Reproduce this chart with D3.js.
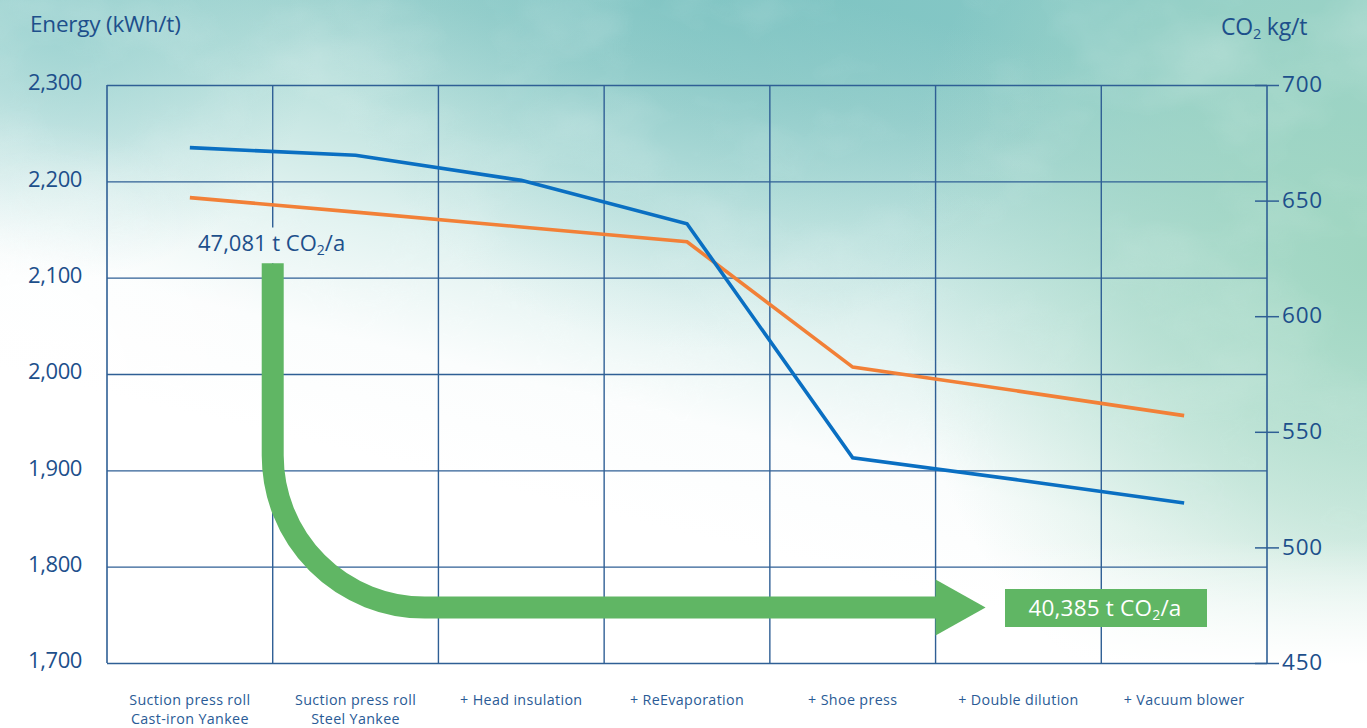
<!DOCTYPE html>
<html>
<head>
<meta charset="utf-8">
<script src="https://cdn.jsdelivr.net/npm/d3@7"></script>
<style>
  html, body { margin: 0; padding: 0; background: #fff; }
  svg { display: block; }
  text { font-family: "Open Sans", "Noto Sans", sans-serif; }
</style>
</head>
<body>
<svg id="chart" width="1367" height="728"></svg>
<script>
// ---------- data ----------
const categories = [
  "Suction press roll\nCast-iron Yankee",
  "Suction press roll\nSteel Yankee",
  "+ Head insulation",
  "+ ReEvaporation",
  "+ Shoe press",
  "+ Double dilution",
  "+ Vacuum blower"
];
const energyValues = [2235, 2227, 2201, 2156, 1913, 1890, 1866];   // kWh/t (left axis)
const co2Values    = [651.3, 645.0, 638.6, 632.2, 578.0, 567.6, 557.0]; // kg/t (right axis)
const leftTicks  = [1700, 1800, 1900, 2000, 2100, 2200, 2300];
const rightTicks = [450, 500, 550, 600, 650, 700];
const startLabel = "47,081 t CO";
const endLabel   = "40,385 t CO";

// ---------- layout ----------
const W = 1367, H = 728;
const m = { left: 107, top: 85, right: 100, bottom: 65 };
const pw = W - m.left - m.right, ph = H - m.top - m.bottom;

const svg = d3.select("#chart");
const textCol = "#1d4f8b", gridCol = "#2f5f95";

// ---------- background ----------
const defs = svg.append("defs");
const lg = defs.append("linearGradient").attr("id", "bgLin")
  .attr("gradientUnits", "userSpaceOnUse")
  .attr("x1", 760).attr("y1", -20).attr("x2", 630).attr("y2", 520);
[[0, "#86c8c6"], [0.18, "#9bd1ce"], [0.38, "#bfe3df"], [0.6, "#e3f3f1"], [0.8, "#fbfdfd"], [1, "#ffffff"]]
  .forEach(([o, c]) => lg.append("stop").attr("offset", o).attr("stop-color", c));

const rg1 = defs.append("radialGradient").attr("id", "bgGreen")
  .attr("gradientUnits", "userSpaceOnUse").attr("cx", 1367).attr("cy", 260)
  .attr("r", 470).attr("gradientTransform", "translate(1367,260) scale(1,1.1) translate(-1367,-260)");
rg1.append("stop").attr("offset", 0).attr("stop-color", "#9fd6c0").attr("stop-opacity", 0.95);
rg1.append("stop").attr("offset", 0.5).attr("stop-color", "#a9dac6").attr("stop-opacity", 0.55);
rg1.append("stop").attr("offset", 1).attr("stop-color", "#b5e0cf").attr("stop-opacity", 0);

const rg2 = defs.append("radialGradient").attr("id", "bgWhite")
  .attr("gradientUnits", "userSpaceOnUse").attr("cx", 30).attr("cy", 380).attr("r", 260);
rg2.append("stop").attr("offset", 0).attr("stop-color", "#ffffff").attr("stop-opacity", 0.8);
rg2.append("stop").attr("offset", 1).attr("stop-color", "#ffffff").attr("stop-opacity", 0);

const rg3 = defs.append("radialGradient").attr("id", "bgDark")
  .attr("gradientUnits", "userSpaceOnUse").attr("cx", 700).attr("cy", -30).attr("r", 380);
rg3.append("stop").attr("offset", 0).attr("stop-color", "#72bdbd").attr("stop-opacity", 0.45);
rg3.append("stop").attr("offset", 1).attr("stop-color", "#72bdbd").attr("stop-opacity", 0);

const rg4 = defs.append("radialGradient").attr("id", "bgTopLeft")
  .attr("gradientUnits", "userSpaceOnUse").attr("cx", 60).attr("cy", 20).attr("r", 260);
rg4.append("stop").attr("offset", 0).attr("stop-color", "#8fcccb").attr("stop-opacity", 0.7);
rg4.append("stop").attr("offset", 1).attr("stop-color", "#8fcccb").attr("stop-opacity", 0);

const fadeBottom = defs.append("linearGradient").attr("id", "bgFade")
  .attr("x1", 0).attr("y1", 0).attr("x2", 0).attr("y2", 1);
fadeBottom.append("stop").attr("offset", 0).attr("stop-color", "#fff").attr("stop-opacity", 0);
fadeBottom.append("stop").attr("offset", 1).attr("stop-color", "#fff").attr("stop-opacity", 1);

// soft cloud texture
const f = defs.append("filter").attr("id", "cloud").attr("x", 0).attr("y", 0)
  .attr("width", "100%").attr("height", "100%");
f.append("feTurbulence").attr("type", "fractalNoise").attr("baseFrequency", "0.006 0.009")
  .attr("numOctaves", 4).attr("seed", 7).attr("result", "n");
f.append("feColorMatrix").attr("in", "n").attr("type", "matrix")
  .attr("values", "0 0 0 0 1  0 0 0 0 1  0 0 0 0 1  1.6 0 0 0 -0.75");
const cloudMask = defs.append("linearGradient").attr("id", "cloudMaskGrad")
  .attr("x1", 0).attr("y1", 0).attr("x2", 0).attr("y2", 1);
cloudMask.append("stop").attr("offset", 0).attr("stop-color", "#fff").attr("stop-opacity", 0.9);
cloudMask.append("stop").attr("offset", 0.7).attr("stop-color", "#fff").attr("stop-opacity", 0.5);
cloudMask.append("stop").attr("offset", 1).attr("stop-color", "#fff").attr("stop-opacity", 0);
defs.append("mask").attr("id", "cloudMask").append("rect")
  .attr("width", W).attr("height", 560).attr("fill", "url(#cloudMaskGrad)");

svg.append("rect").attr("width", W).attr("height", H).attr("fill", "#fff");
svg.append("rect").attr("width", W).attr("height", H).attr("fill", "url(#bgLin)");
svg.append("rect").attr("width", W).attr("height", H).attr("fill", "url(#bgDark)");
svg.append("rect").attr("width", W).attr("height", H).attr("fill", "url(#bgTopLeft)");
svg.append("rect").attr("width", W).attr("height", H).attr("fill", "url(#bgGreen)");
svg.append("rect").attr("width", W).attr("height", H).attr("fill", "url(#bgWhite)");
svg.append("g").attr("mask", "url(#cloudMask)").attr("opacity", 0.35)
  .append("rect").attr("width", W).attr("height", 560).attr("filter", "url(#cloud)");
svg.append("rect").attr("y", 540).attr("width", W).attr("height", 125).attr("fill", "url(#bgFade)");
svg.append("rect").attr("y", 664).attr("width", W).attr("height", H - 664).attr("fill", "#fff");

// ---------- scales ----------
const x = d3.scaleBand().domain(categories).range([m.left, m.left + pw]);
const yL = d3.scaleLinear().domain([1700, 2300]).range([m.top + ph, m.top]);
const yR = d3.scaleLinear().domain([450, 700]).range([m.top + ph, m.top]);
const cx = c => x(c) + x.bandwidth() / 2;

// ---------- grid ----------
const grid = svg.append("g");
categories.slice(1).forEach((c, i) => {
  const segs = i === 0 ? [[m.top, yL(2152)], [yL(2115), m.top + ph]] : [[m.top, m.top + ph]];
  segs.forEach(([a, b]) => grid.append("line").attr("x1", x(c)).attr("x2", x(c))
    .attr("y1", a).attr("y2", b).attr("stroke", gridCol).attr("stroke-width", 1.4));
});
[m.left, m.left + pw].forEach(xx => grid.append("line")
  .attr("x1", xx).attr("x2", xx).attr("y1", m.top).attr("y2", m.top + ph)
  .attr("stroke", gridCol).attr("stroke-width", 1.6));

// left axis with horizontal gridlines
const gL = svg.append("g").attr("transform", `translate(${m.left},0)`)
  .call(d3.axisLeft(yL).tickValues(leftTicks).tickSize(-pw).tickPadding(25)
    .tickFormat(d3.format(",")));
gL.select(".domain").remove();
gL.selectAll(".tick line").attr("stroke", gridCol).attr("stroke-width", 1.4);
gL.selectAll(".tick text").attr("fill", textCol).attr("font-size", 22)
  .attr("letter-spacing", -0.4).attr("dy", "0.22em");

// right axis
const gR = svg.append("g").attr("transform", `translate(${m.left + pw},0)`)
  .call(d3.axisRight(yR).tickValues(rightTicks).tickSize(12).tickPadding(3));
gR.select(".domain").remove();
gR.selectAll(".tick line").attr("x1", -12).attr("stroke", gridCol).attr("stroke-width", 1.5);
gR.selectAll(".tick text").attr("fill", textCol).attr("font-size", 22.5)
  .attr("letter-spacing", 0.8).attr("dy", "0.3em");

// category labels (one text per line)
const catG = svg.append("g");
categories.forEach(c => {
  c.split("\n").forEach((ln, i) => catG.append("text")
    .attr("x", cx(c)).attr("y", 704.5 + i * 19.5)
    .attr("text-anchor", "middle").attr("fill", "#2a5b96").attr("font-size", 14.3)
    .attr("letter-spacing", 0.35).text(ln));
});

// axis titles
svg.append("text").attr("x", 30).attr("y", 32).attr("fill", textCol)
  .attr("font-size", 22.5).attr("letter-spacing", -0.2).text("Energy (kWh/t)");
const t2 = svg.append("text").attr("x", 1221).attr("y", 35).attr("fill", textCol)
  .attr("font-size", 23).attr("letter-spacing", -0.2);
t2.append("tspan").text("CO");
t2.append("tspan").attr("font-size", 14.5).attr("dy", 4).text("2");
t2.append("tspan").attr("dy", -4).text(" kg/t");

// ---------- lines ----------
const lineE = d3.line().x((d, i) => cx(categories[i])).y(d => yL(d));
const lineC = d3.line().x((d, i) => cx(categories[i])).y(d => yR(d));
svg.append("path").datum(co2Values).attr("d", lineC).attr("fill", "none")
  .attr("stroke", "#f28037").attr("stroke-width", 3.6);
svg.append("path").datum(energyValues).attr("d", lineE).attr("fill", "none")
  .attr("stroke", "#0a6fc2").attr("stroke-width", 3.6);

// ---------- green arrow annotation ----------
const green = "#60b664";
const ax = x(categories[1]);
const aTop = yL(2115);
const aY = yL(1757.5);
const aEnd = x(categories[5]);
const r = 152;
const p = d3.path();
p.moveTo(ax, aTop);
p.lineTo(ax, aY - r);
p.arcTo(ax, aY, ax + r, aY, r);
p.lineTo(aEnd + 1, aY);
svg.append("path").attr("d", p.toString()).attr("fill", "none")
  .attr("stroke", green).attr("stroke-width", 22);
svg.append("path")
  .attr("d", `M${aEnd},${aY - 28}L${aEnd + 50},${aY}L${aEnd},${aY + 28}Z`)
  .attr("fill", green);

// start label
const sl = svg.append("text").attr("x", 198).attr("y", 251).attr("fill", textCol)
  .attr("font-size", 22).attr("letter-spacing", 0);
sl.append("tspan").text(startLabel);
sl.append("tspan").attr("font-size", 14).attr("dy", 4).text("2");
sl.append("tspan").attr("dy", -4).text("/a");

// end label box
svg.append("rect").attr("x", 1005).attr("y", 589).attr("width", 202).attr("height", 38)
  .attr("fill", green);
const el = svg.append("text").attr("x", 1105).attr("y", 616).attr("fill", "#fff")
  .attr("text-anchor", "middle").attr("font-size", 22.5).attr("letter-spacing", 0.2);
el.append("tspan").text(endLabel);
el.append("tspan").attr("font-size", 14).attr("dy", 4).text("2");
el.append("tspan").attr("dy", -4).text("/a");
</script>
</body>
</html>
